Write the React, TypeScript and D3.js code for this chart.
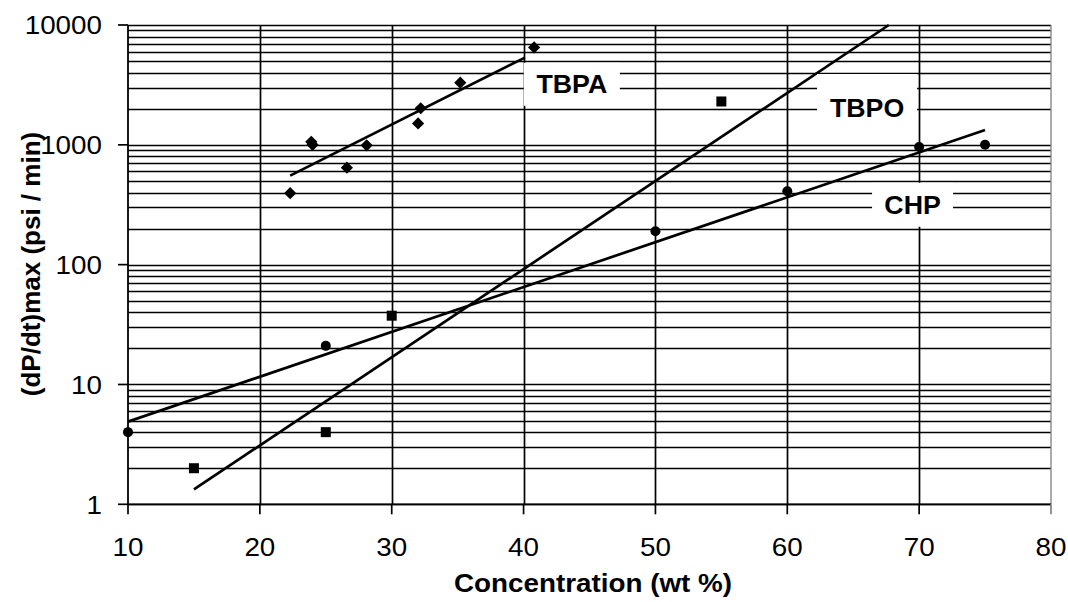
import React from "react";
import * as d3 from "d3";

// TBPA (diamonds)
const tbpaX = [22.3, 23.9, 24.0, 26.6, 28.1, 32.0, 32.2, 35.2, 40.8];
const tbpaY = [395, 1060, 1000, 645, 990, 1510, 2020, 3300, 6500];
// TBPO (squares)
const tbpoX = [15, 25, 30, 55];
const tbpoY = [2, 4, 37.5, 2300];
// CHP (circles)
const chpX = [10, 25, 50, 60, 70, 75];
const chpY = [4, 21, 190, 410, 960, 1000];

// exponential trend lines, ends
const tbpaTrend = [[22.3, 553], [40.1, 5345]];
const tbpoTrend = [[15, 1.33], [67.7, 10000]];
const chpTrend = [[10, 4.9], [75, 1330]];

const xTicks = [10, 20, 30, 40, 50, 60, 70, 80];
const yTicks = [1, 10, 100, 1000, 10000];

// label boxes: centre in data units, size in px
const labels = [
  { text: "TBPA", x: 43.66, y: 3200, w: 96, h: 43 },
  { text: "TBPO", x: 66.05, y: 2030, w: 100, h: 68 },
  { text: "CHP", x: 69.5, y: 316, w: 81, h: 44 },
];

const W = 1068;
const H = 602;
const font = "'Liberation Sans', Arial, sans-serif";
const SX = 1.07; // the picture is a bit wider than tall

// horizontal text, slightly stretched
function HText({ x, y, anchor, size, bold, children }: any) {
  return (
    <text
      transform={`translate(${x},${y}) scale(${SX},1)`}
      textAnchor={anchor}
      fontFamily={font}
      fontSize={size}
      fontWeight={bold ? "bold" : "normal"}
      fill="#000"
    >
      {children}
    </text>
  );
}

export default function App() {
  const x = d3.scaleLinear().domain([10, 80]).range([128, 1051]);
  const y = d3.scaleLog().domain([1, 10000]).range([504.3, 25]);

  const minor: number[] = [];
  for (let d = 1; d < 10000; d *= 10) {
    for (let k = 2; k <= 9; k++) minor.push(d * k);
  }

  const line = d3
    .line<number[]>()
    .x((d) => x(d[0]))
    .y((d) => y(d[1]));

  const diamond = d3.symbol().type(d3.symbolDiamond2).size(95)();

  return (
    <div style={{ position: "absolute", left: 0, top: 0 }}>
      <svg width={W} height={H} style={{ display: "block", background: "#fff" }}>
        {/* grid */}
        {minor.concat(yTicks).map((t) => (
          <line
            key={"h" + t}
            x1={x(10)}
            x2={x(80)}
            y1={Math.round(y(t)) + 0.5}
            y2={Math.round(y(t)) + 0.5}
            stroke="#000"
            strokeWidth={1.6}
          />
        ))}
        {xTicks.slice(1, -1).map((t) => (
          <line
            key={"v" + t}
            x1={Math.round(x(t)) + 0.5}
            x2={Math.round(x(t)) + 0.5}
            y1={y(10000)}
            y2={y(1)}
            stroke="#000"
            strokeWidth={1.7}
          />
        ))}
        {/* right border */}
        <line x1={x(80)} x2={x(80)} y1={y(10000)} y2={y(1)} stroke="#808080" strokeWidth={1.3} />

        {/* axes */}
        <line x1={x(10)} x2={x(10)} y1={y(10000)} y2={y(1)} stroke="#000" strokeWidth={1.8} />
        <line x1={x(10)} x2={x(80)} y1={y(1)} y2={y(1)} stroke="#000" strokeWidth={1.8} />
        {yTicks.map((t) => (
          <g key={"yt" + t}>
            <line x1={x(10) - 10} x2={x(10)} y1={y(t)} y2={y(t)} stroke="#000" strokeWidth={1.7} />
            <HText x={102} y={y(t) + 9.3} anchor="end" size={26}>
              {t}
            </HText>
          </g>
        ))}
        {xTicks.map((t) => (
          <g key={"xt" + t}>
            <line
              x1={x(t)}
              x2={x(t)}
              y1={y(1)}
              y2={y(1) + 10}
              stroke={t === 80 ? "#808080" : "#000"}
              strokeWidth={1.7}
            />
            <HText x={x(t)} y={556} anchor="middle" size={26}>
              {t}
            </HText>
          </g>
        ))}

        {/* trend lines */}
        {[tbpaTrend, tbpoTrend, chpTrend].map((tr, i) => (
          <path key={"tr" + i} d={line(tr) || ""} fill="none" stroke="#000" strokeWidth={2.7} />
        ))}

        {/* markers */}
        {tbpaX.map((v, i) => (
          <path key={"d" + i} d={diamond || ""} transform={`translate(${x(v)},${y(tbpaY[i])})`} fill="#000" />
        ))}
        {tbpoX.map((v, i) => (
          <rect key={"s" + i} x={x(v) - 5} y={y(tbpoY[i]) - 5} width={10} height={10} fill="#000" />
        ))}
        {chpX.map((v, i) => (
          <circle key={"c" + i} cx={x(v)} cy={y(chpY[i])} r={5} fill="#000" />
        ))}

        {/* series labels */}
        {labels.map((l) => (
          <g key={l.text}>
            <rect
              x={x(l.x) - l.w / 2}
              y={y(l.y) - l.h / 2}
              width={l.w}
              height={l.h}
              fill="#fff"
            />
            <HText x={x(l.x)} y={y(l.y) + 9} anchor="middle" size={25} bold>
              {l.text}
            </HText>
          </g>
        ))}

        {/* axis titles */}
        <HText x={593} y={592} anchor="middle" size={26} bold>
          Concentration (wt %)
        </HText>
        <text
          transform="translate(40,264) rotate(-90)"
          textAnchor="middle"
          fontFamily={font}
          fontWeight="bold"
          fontSize={26}
          fill="#000"
        >
          (dP/dt)max (psi / min)
        </text>
      </svg>
    </div>
  );
}
